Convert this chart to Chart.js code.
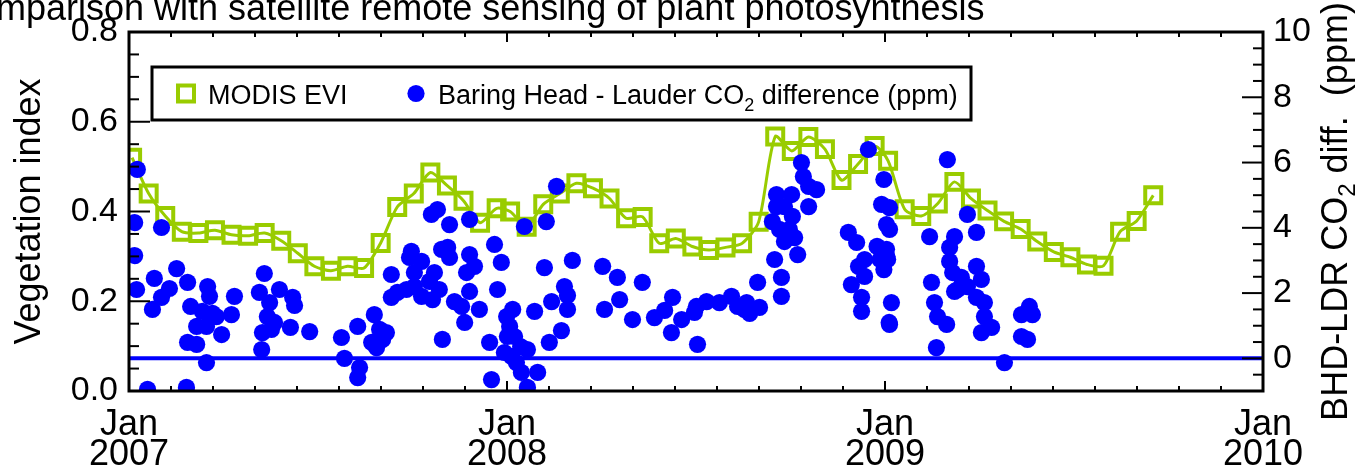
<!DOCTYPE html>
<html>
<head>
<meta charset="utf-8">
<script src="https://cdn.jsdelivr.net/npm/chart.js@4.4.1/dist/chart.umd.min.js"></script>
<style>
  html, body { margin: 0; padding: 0; background: #fff; }
  canvas { display: block; }
</style>
</head>
<body>
<canvas id="chart" width="1356" height="473"></canvas>
<script>
// MODIS 16-day composites: start day-of-year and EVI per year
const eviDoy = [1, 17, 33, 49, 65, 81, 97, 113, 129, 145, 161, 177, 193, 209, 225, 241, 257, 273, 289, 305, 321, 337, 353];
const evi2007 = [0.52, 0.44, 0.39, 0.355, 0.352, 0.358, 0.348, 0.346, 0.352, 0.335, 0.307, 0.278, 0.268, 0.278, 0.274, 0.33, 0.41, 0.44, 0.487, 0.458, 0.424, 0.375, 0.407];
const evi2008 = [0.40, 0.366, 0.416, 0.44, 0.463, 0.452, 0.429, 0.385, 0.388, 0.329, 0.340, 0.322, 0.314, 0.320, 0.329, 0.377, 0.567, 0.535, 0.566, 0.539, 0.470, 0.506, 0.546];
const evi2009 = [0.513, 0.405, 0.39, 0.418, 0.466, 0.429, 0.402, 0.378, 0.361, 0.333, 0.310, 0.298, 0.282, 0.279, 0.355, 0.379, 0.436];
const eviOffsetDays = 3;

// Baring Head - Lauder CO2 difference (decimal year, ppm)
const bhdDates = [
  2007.022, 2007.015, 2007.086, 2007.015, 2007.020, 2007.067, 2007.126, 2007.155, 2007.107, 2007.086,
  2007.062, 2007.208, 2007.213, 2007.163, 2007.194, 2007.221, 2007.179, 2007.205, 2007.245, 2007.231,
  2007.155, 2007.179, 2007.205, 2007.279, 2007.271, 2007.049, 2007.152, 2007.358, 2007.345, 2007.398,
  2007.433, 2007.438, 2007.372, 2007.366, 2007.377, 2007.353, 2007.351, 2007.427, 2007.478, 2007.385,
  2007.562, 2007.570, 2007.610, 2007.605, 2007.605, 2007.649, 2007.663, 2007.671, 2007.655, 2007.642,
  2007.681, 2007.694, 2007.710, 2007.694, 2007.734, 2007.747, 2007.742, 2007.774, 2007.755, 2007.755,
  2007.774, 2007.795, 2007.803, 2007.808, 2007.821, 2007.800, 2007.816, 2007.848, 2007.827, 2007.843,
  2007.848, 2007.829, 2007.861, 2007.880, 2007.901, 2007.901, 2007.893, 2007.914, 2007.901, 2007.927,
  2007.888, 2007.967, 2007.985, 2007.975, 2007.999, 2007.954, 2007.959, 2008.001, 2007.993, 2008.015,
  2008.007, 2008.020, 2008.036, 2008.054, 2008.012, 2008.025, 2008.038, 2008.081, 2008.054, 2008.073,
  2008.046, 2008.104, 2008.131, 2008.099, 2008.112, 2008.144, 2008.118, 2008.152, 2008.160, 2008.160,
  2008.173, 2008.253, 2008.292, 2008.298, 2008.258, 2008.332, 2008.358, 2008.390, 2008.417, 2008.438,
  2008.435, 2008.462, 2008.504, 2008.501, 2008.496, 2008.528, 2008.562, 2008.594, 2008.610, 2008.628,
  2008.642, 2008.668, 2008.634, 2008.663, 2008.708, 2008.726, 2008.726, 2008.702, 2008.713, 2008.713,
  2008.753, 2008.734, 2008.755, 2008.761, 2008.769, 2008.734, 2008.747, 2008.721, 2008.779, 2008.784,
  2008.798, 2008.819, 2008.798, 2008.903, 2008.925, 2008.946, 2008.930, 2008.911, 2008.938, 2008.938,
  2008.946, 2008.979, 2009.005, 2008.987, 2008.997, 2009.011, 2008.956, 2008.997, 2008.991, 2009.004,
  2009.012, 2009.012, 2009.004, 2009.007, 2009.017, 2009.012, 2009.118, 2009.123, 2009.131, 2009.139,
  2009.163, 2009.136, 2009.165, 2009.218, 2009.242, 2009.184, 2009.171, 2009.171, 2009.179, 2009.184,
  2009.202, 2009.218, 2009.242, 2009.255, 2009.242, 2009.263, 2009.263, 2009.255, 2009.282, 2009.316,
  2009.361, 2009.382, 2009.390, 2009.361, 2009.377, 2009.192
];
const bhdPpm = [
  5.79, 4.16, 4.01, 3.15, 2.11, 2.45, 2.75, 2.33, 2.14, 1.87,
  1.50, 2.20, 1.90, 1.59, 1.44, 1.38, 0.98, 0.98, 0.73, 1.28,
  0.49, 0.43, -0.13, 1.90, 1.34, -0.95, -0.89, 2.60, 2.02, 2.11,
  1.87, 1.62, 1.71, 1.28, 0.89, 0.79, 0.27, 0.95, 0.82, 1.10,
  0.64, 0.00, -0.28, -0.59, 0.98, 1.34, 0.89, 0.58, 0.33, 0.49,
  0.79, 1.87, 2.02, 2.57, 2.11, 3.28, 3.09, 2.97, 2.63, 2.20,
  1.90, 2.36, 1.80, 2.63, 2.11, 4.41, 4.56, 4.10, 3.34, 3.40,
  3.09, 0.58, 1.74, 1.59, 4.26, 3.18, 2.63, 2.82, 2.05, 1.50,
  1.10, 3.49, 2.94, 2.11, 1.28, 0.49, -0.65, 0.67, 0.18, 1.50,
  0.98, 0.67, 0.36, 0.27, 0.06, -0.13, -0.43, -0.43, -0.89, 1.44,
  4.04, 4.19, 5.27, 2.78, 0.49, 0.85, 1.74, 2.20, 1.93, 1.50,
  3.00, 2.82, 2.48, 1.80, 1.50, 1.19, 2.33, 1.25, 1.47, 1.87,
  0.79, 1.19, 0.43, 1.59, 1.41, 1.74, 1.71, 1.90, 1.59, 1.50,
  1.38, 1.56, 1.71, 2.33, 3.03, 2.48, 1.90, 4.19, 5.02, 4.65,
  5.02, 4.65, 4.35, 3.70, 3.18, 3.58, 3.95, 3.95, 6.00, 5.57,
  5.27, 5.17, 4.65, 3.86, 3.55, 3.03, 2.82, 2.26, 1.87, 1.44,
  2.51, 3.43, 3.12, 3.03, 2.72, 1.10, 6.40, 5.48, 4.72, 4.10,
  4.62, 3.95, 3.34, 3.03, 1.71, 1.04, 3.73, 2.33, 1.71, 1.28,
  1.04, 0.33, 6.09, 4.41, 3.86, 3.73, 3.40, 2.97, 2.63, 2.05,
  2.48, 2.20, 2.82, 2.42, 1.87, 1.71, 1.28, 0.79, 0.95, -0.13,
  1.34, 1.59, 1.34, 0.67, 0.58, 2.11
];

const yearTicks = [2007, 2008, 2009, 2010];
const eviTicks = [0, 0.2, 0.4, 0.6, 0.8];
const ppmTicks = [0, 2, 4, 6, 8, 10];

const FONT = "'Liberation Sans', Arial, Helvetica, sans-serif";
const GREEN = 'rgb(153,204,0)';
const BLUE = 'rgb(0,0,255)';

const eviPoints = [];
[[2007, evi2007], [2008, evi2008], [2009, evi2009]].forEach(([yr, vals]) => {
  vals.forEach((v, i) => eviPoints.push({ x: yr + (eviDoy[i] - 1 + eviOffsetDays) / 365, y: v }));
});
const bhdPoints = bhdDates.map((d, i) => ({ x: d, y: bhdPpm[i] }));

// inward ticks, frame, legend and titles
const decorations = {
  id: 'decorations',
  afterDatasetsDraw(chart) {
    const { ctx, chartArea: a, scales } = chart;
    ctx.save();
    ctx.strokeStyle = '#000';
    ctx.lineWidth = 2;
    const line = (x1, y1, x2, y2) => { ctx.beginPath(); ctx.moveTo(x1, y1); ctx.lineTo(x2, y2); ctx.stroke(); };

    for (let i = 0; i <= 16; i++) {
      const y = scales.y.getPixelForValue(i * 0.05);
      line(a.left, y, a.left + (i % 4 === 0 ? 21 : 10), y);
    }
    for (let i = 0; i <= 22; i++) {
      const v = -1 + i * 0.5;
      const y = scales.y2.getPixelForValue(v);
      line(a.right, y, a.right - (v % 2 === 0 ? 21 : 10), y);
    }
    for (let i = 0; i <= 27; i++) {
      const x = scales.x.getPixelForValue(2007 + i / 9);
      const len = i % 9 === 0 ? 10 : 5;
      line(x, a.bottom, x, a.bottom - len);
      line(x, a.top, x, a.top + len);
    }
    ctx.lineWidth = 3;
    ctx.strokeRect(a.left, a.top, a.right - a.left, a.bottom - a.top);

    // legend box
    const lx = a.left + 23, ly = a.top + 35, lw = 819, lh = 53;
    ctx.fillStyle = '#fff';
    ctx.fillRect(lx, ly, lw, lh);
    ctx.strokeRect(lx, ly, lw, lh);
    const cy = ly + lh / 2;
    ctx.strokeStyle = GREEN;
    ctx.lineWidth = 4;
    ctx.strokeRect(lx + 34 - 8, cy - 8, 16, 16);
    ctx.fillStyle = BLUE;
    ctx.beginPath();
    ctx.arc(lx + 264, cy, 8.6, 0, Math.PI * 2);
    ctx.fill();
    ctx.fillStyle = '#000';
    ctx.textBaseline = 'alphabetic';
    ctx.textAlign = 'left';
    ctx.font = '27px ' + FONT;
    const base = cy + 10;
    ctx.fillText('MODIS EVI', lx + 56, base);
    let tx = lx + 286;
    const t1 = 'Baring Head - Lauder CO';
    ctx.fillText(t1, tx, base);
    tx += ctx.measureText(t1).width;
    ctx.font = '18px ' + FONT;
    ctx.fillText('2', tx, base + 7);
    tx += ctx.measureText('2').width;
    ctx.font = '27px ' + FONT;
    ctx.fillText(' difference (ppm)', tx, base);
    ctx.restore();
  },
  afterDraw(chart) {
    const { ctx, chartArea: a } = chart;
    ctx.save();
    ctx.fillStyle = '#000';
    ctx.textAlign = 'left';
    ctx.textBaseline = 'alphabetic';
    ctx.font = '36px ' + FONT;
    ctx.fillText('Comparison with satellite remote sensing of plant photosynthesis', -50, 20);

    // right axis title, reading upward, with subscript
    const parts = [['BHD-LDR CO', 36, 0], ['2', 24, 8], [' diff.  (ppm)', 36, 0]];
    let total = 0;
    parts.forEach(([s, size]) => { ctx.font = size + 'px ' + FONT; total += ctx.measureText(s).width; });
    ctx.translate(1347, (a.top + a.bottom) / 2);
    ctx.rotate(-Math.PI / 2);
    let x = -total / 2;
    parts.forEach(([s, size, dy]) => {
      ctx.font = size + 'px ' + FONT;
      ctx.fillText(s, x, dy);
      x += ctx.measureText(s).width;
    });
    ctx.restore();
  }
};

new Chart(document.getElementById('chart'), {
  type: 'line',
  data: {
    datasets: [
      {
        label: 'MODIS EVI',
        data: eviPoints,
        yAxisID: 'y',
        borderColor: GREEN,
        borderWidth: 3,
        tension: 0.25,
        pointStyle: 'rect',
        pointRadius: 11.3,
        pointBorderWidth: 4,
        pointBorderColor: GREEN,
        pointBackgroundColor: 'rgba(0,0,0,0)',
        clip: 0,
        order: 3
      },
      {
        label: 'Baring Head - Lauder CO2 difference (ppm)',
        data: bhdPoints,
        yAxisID: 'y2',
        showLine: false,
        pointRadius: 8.6,
        pointBorderWidth: 0,
        pointBackgroundColor: BLUE,
        clip: 0,
        order: 2
      },
      {
        label: 'zero',
        data: [{ x: yearTicks[0], y: 0 }, { x: yearTicks[yearTicks.length - 1], y: 0 }],
        yAxisID: 'y2',
        borderColor: BLUE,
        borderWidth: 4,
        pointRadius: 0,
        clip: 0,
        order: 1
      }
    ]
  },
  options: {
    responsive: false,
    animation: false,
    events: [],
    layout: { padding: { top: 32, left: 0, right: 0, bottom: 0 } },
    plugins: { legend: { display: false }, tooltip: { enabled: false } },
    scales: {
      x: {
        type: 'linear',
        position: 'bottom',
        min: 2007,
        max: 2010,
        afterBuildTicks: s => { s.ticks = yearTicks.map(v => ({ value: v })); },
        afterFit: s => { s.height = 82; },
        grid: { display: false, drawTicks: false },
        border: { display: false },
        ticks: {
          callback: v => ['Jan', String(v)],
          font: { family: FONT, size: 36, lineHeight: 0.83 },
          color: '#000',
          padding: 19,
          maxRotation: 0,
          autoSkip: false
        }
      },
      y: {
        type: 'linear',
        position: 'left',
        min: 0,
        max: 0.8,
        afterBuildTicks: s => { s.ticks = eviTicks.map(v => ({ value: v })); },
        afterFit: s => { s.width = 129; },
        grid: { display: false, drawTicks: false },
        border: { display: false },
        ticks: {
          callback: v => v.toFixed(1),
          font: { family: FONT, size: 34 },
          color: '#000',
          padding: 11
        },
        title: {
          display: true,
          text: 'Vegetation index',
          font: { family: FONT, size: 36 },
          color: '#000',
          padding: { top: 8, bottom: 0 }
        }
      },
      y2: {
        type: 'linear',
        position: 'right',
        min: -1,
        max: 10,
        afterBuildTicks: s => { s.ticks = ppmTicks.map(v => ({ value: v })); },
        afterFit: s => { s.width = 93; },
        grid: { display: false, drawTicks: false },
        border: { display: false },
        ticks: {
          font: { family: FONT, size: 34 },
          color: '#000',
          padding: 10
        }
      }
    }
  },
  plugins: [decorations]
});
</script>
</body>
</html>
